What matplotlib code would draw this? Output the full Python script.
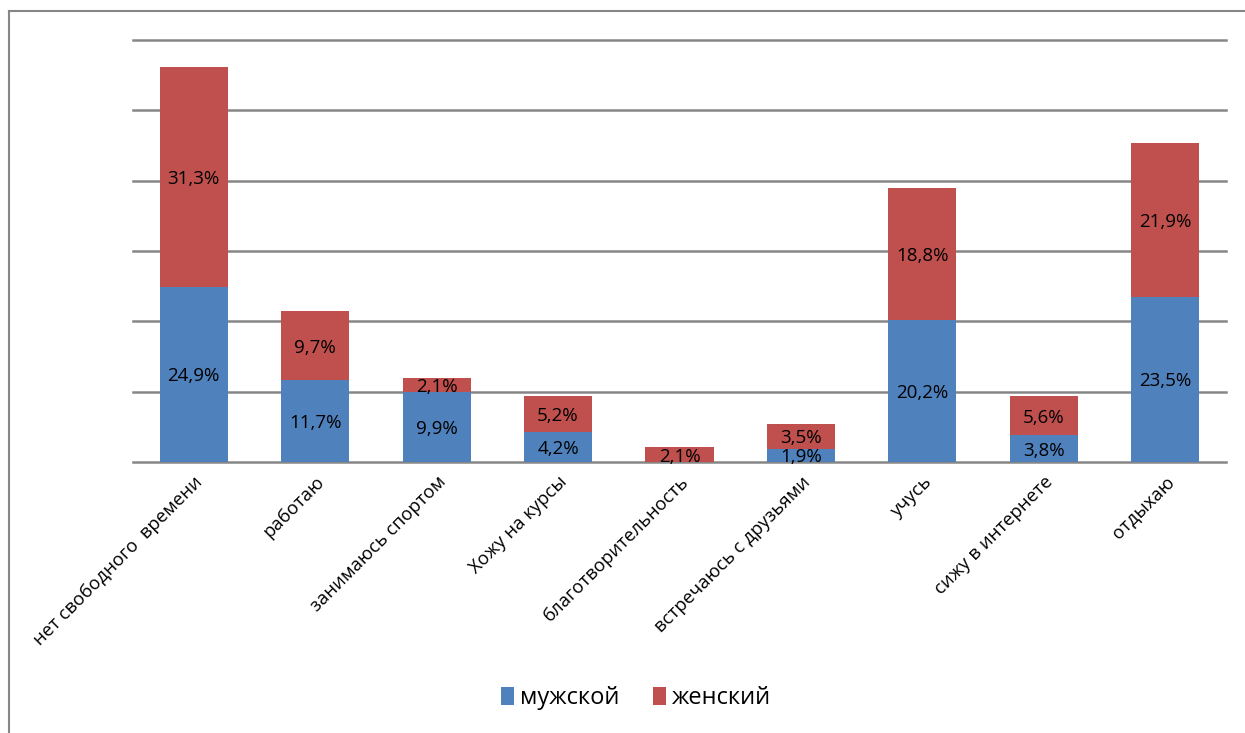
import matplotlib.pyplot as plt
from matplotlib.lines import Line2D
import numpy as np

categories = ['нет свободного  времени', 'работаю', 'занимаюсь спортом', 'Хожу на курсы',
              'благотворительность', 'встречаюсь с друзьями', 'учусь', 'сижу в интернете', 'отдыхаю']
male = [24.9, 11.7, 9.9, 4.2, 0.0, 1.9, 20.2, 3.8, 23.5]
female = [31.3, 9.7, 2.1, 5.2, 2.1, 3.5, 18.8, 5.6, 21.9]

plt.rcParams['font.family'] = ['Open Sans', 'DejaVu Sans']

blue = '#4f81bd'
red = '#c0504d'

fig = plt.figure(figsize=(12.45, 7.33), dpi=100)
ax = fig.add_axes([133 / 1245, 1 - 462 / 733, (1226 - 133) / 1245, (462 - 40) / 733])

x = np.arange(len(categories))
male = np.array(male)
female = np.array(female)

ax.bar(x, male, width=0.56, color=blue, label='мужской', zorder=3)
ax.bar(x, female, width=0.56, bottom=male, color=red, label='женский', zorder=3)

# labels inside segments
for i in range(len(x)):
    if male[i] > 0:
        ax.text(x[i], male[i] / 2, f'{male[i]:.1f}%'.replace('.', ','),
                ha='center', va='center_baseline', fontsize=13.5, zorder=4)
    if female[i] > 0:
        ax.text(x[i], male[i] + female[i] / 2, f'{female[i]:.1f}%'.replace('.', ','),
                ha='center', va='center_baseline', fontsize=13.5, zorder=4)

ax.set_xlim(-0.5, len(categories) - 0.5)
ax.set_ylim(0, 60)
ax.set_yticks(np.arange(0, 61, 10))
ax.set_yticklabels([])
ax.tick_params(axis='y', length=0)
ax.tick_params(axis='x', length=0, pad=8)
ax.grid(axis='y', color='#868686', linewidth=1.8, zorder=0)
for gl in ax.get_ygridlines():
    gl.set_clip_on(False)
for s in ax.spines.values():
    s.set_visible(False)

ax.set_xticks(x)
ax.set_xticklabels(categories, rotation=45, ha='right', rotation_mode='anchor', fontsize=13.3)

ax.legend(loc='center', bbox_to_anchor=(636 / 1245, 1 - 698 / 733), bbox_transform=fig.transFigure,
          ncol=2, frameon=False, fontsize=17, handlelength=0.55, handleheight=0.8,
          handletextpad=0.25, columnspacing=1.4)

# outer frame (left and top edges)
fig.add_artist(Line2D([9 / 1245, 9 / 1245], [0, 1 - 11 / 733], color='#868686', linewidth=1.5,
                      transform=fig.transFigure))
fig.add_artist(Line2D([9 / 1245, 1], [1 - 11 / 733, 1 - 11 / 733], color='#868686', linewidth=1.5,
                      transform=fig.transFigure))

fig.savefig('out.png', dpi=100)
